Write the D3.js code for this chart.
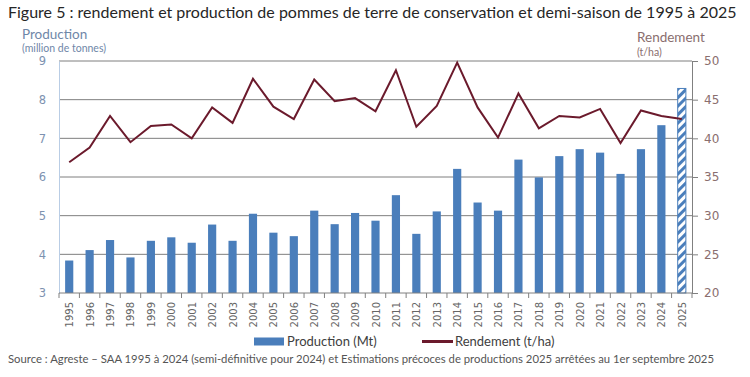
<!DOCTYPE html>
<html>
<head>
<meta charset="utf-8">
<script src="https://cdn.jsdelivr.net/npm/d3@7"></script>
<style>
  body { margin: 0; background: #fff; }
  svg { display: block; }
</style>
</head>
<body>
<svg id="chart"></svg>
<script>
const years = ["1995","1996","1997","1998","1999","2000","2001","2002","2003","2004",
  "2005","2006","2007","2008","2009","2010","2011","2012","2013","2014",
  "2015","2016","2017","2018","2019","2020","2021","2022","2023","2024","2025"];
const production = [3.84, 4.11, 4.37, 3.92, 4.35, 4.44, 4.30, 4.77, 4.35, 5.05,
  4.56, 4.47, 5.13, 4.78, 5.07, 4.87, 5.53, 4.53, 5.11, 6.21,
  5.34, 5.13, 6.45, 5.99, 6.54, 6.72, 6.63, 6.08, 6.72, 7.34, 8.29];
const rendement = [36.9, 38.8, 42.9, 39.5, 41.6, 41.8, 40.0, 44.0, 42.0, 47.7,
  44.1, 42.5, 47.6, 44.8, 45.2, 43.5, 48.8, 41.5, 44.2, 49.8,
  44.0, 40.1, 45.8, 41.3, 42.9, 42.7, 43.8, 39.4, 43.6, 42.9, 42.5];
const estimateYear = "2025";
const leftTicks = [3, 4, 5, 6, 7, 8, 9];
const rightTicks = [20, 25, 30, 35, 40, 45, 50];

const W = 750, H = 377;
const margin = { top: 61, right: 58, bottom: 84, left: 59 };
const width = W - margin.left - margin.right,
      height = H - margin.top - margin.bottom;

const blue = "#4a7ebb", maroon = "#6b1a2c";

const svg = d3.select("#chart").attr("width", W).attr("height", H);

const defs = svg.append("defs");
const pat = defs.append("pattern")
    .attr("id", "hatch")
    .attr("patternUnits", "userSpaceOnUse")
    .attr("width", 6).attr("height", 6)
    .attr("patternTransform", "rotate(45)");
pat.append("rect").attr("width", 6).attr("height", 6).attr("fill", "#fff");
pat.append("rect").attr("width", 3).attr("height", 6).attr("fill", blue);

const g = svg.append("g").attr("transform", `translate(${margin.left},${margin.top})`);

const x = d3.scaleBand().domain(years).range([0, width]).paddingInner(0.6).paddingOuter(0.3);
const y = d3.scaleLinear().domain([3, 9]).range([height, 0]);
const y2 = d3.scaleLinear().domain([20, 50]).range([height, 0]);

// gridlines
g.append("g").selectAll("line")
    .data(leftTicks.filter(d => d > 3))
    .enter().append("line")
    .attr("x1", 0).attr("x2", width)
    .attr("y1", d => y(d)).attr("y2", d => y(d))
    .attr("stroke", "#7f7f7f").attr("stroke-width", 1);

// bars
const data = years.map((yr, i) => ({ yr, p: production[i], r: rendement[i] }));
g.selectAll(".bar")
    .data(data)
    .enter().append("rect")
    .attr("class", "bar")
    .attr("x", d => x(d.yr))
    .attr("width", x.bandwidth())
    .attr("y", d => y(d.p))
    .attr("height", d => height - y(d.p))
    .attr("fill", d => d.yr === estimateYear ? "url(#hatch)" : blue)
    .attr("stroke", d => d.yr === estimateYear ? blue : "none")
    .attr("stroke-width", 1);

// line
const line = d3.line()
    .x(d => x(d.yr) + x.bandwidth() / 2)
    .y(d => y2(d.r));
g.append("path")
    .datum(data)
    .attr("fill", "none")
    .attr("stroke", maroon)
    .attr("stroke-width", 2)
    .attr("d", line);

// left axis
const leftAxis = g.append("g")
    .call(d3.axisLeft(y).tickValues(leftTicks).tickFormat(d3.format("d")).tickSize(0).tickPadding(13));
leftAxis.select(".domain").attr("stroke", "#b9cde5");
leftAxis.selectAll("text").attr("fill", "#7d92b0").style("font-family", "DejaVu Sans").style("font-size", "11.5px");

// right axis
const rightAxis = g.append("g")
    .attr("transform", `translate(${width},0)`)
    .call(d3.axisRight(y2).tickValues(rightTicks).tickSize(6).tickSizeOuter(0).tickPadding(6));
rightAxis.select(".domain").attr("stroke", "#808080");
rightAxis.selectAll("line").attr("stroke", "#808080");
rightAxis.selectAll("text").attr("fill", "#8a6e6e").style("font-family", "DejaVu Sans").style("font-size", "12px");

// bottom axis
const bottom = g.append("g").attr("transform", `translate(0,${height})`);
bottom.append("line").attr("x1", 0).attr("x2", width).attr("stroke", "#808080");
bottom.selectAll(".tk")
    .data(d3.range(years.length + 1))
    .enter().append("line")
    .attr("class", "tk")
    .attr("x1", i => i * x.step())
    .attr("x2", i => i * x.step())
    .attr("y1", 0).attr("y2", 5)
    .attr("stroke", "#808080");
bottom.selectAll(".yr")
    .data(years)
    .enter().append("text")
    .attr("class", "yr")
    .attr("transform", d => `translate(${x(d) + x.bandwidth() / 2 + 4},9) rotate(-90)`)
    .attr("text-anchor", "end")
    .style("font-family", "DejaVu Sans")
    .style("font-size", "10px")
    .attr("fill", "#666")
    .text(d => d);

// titles
svg.append("text")
    .attr("x", 8).attr("y", 18)
    .style("font-family", "Lato").style("font-size", "16px")
    .attr("fill", "#262626")
    .text("Figure 5 : rendement et production de pommes de terre de conservation et demi-saison de 1995 à 2025");

svg.append("text").attr("x", 22).attr("y", 39)
    .style("font-family", "Lato").style("font-size", "13.5px").attr("fill", "#6f87a8")
    .text("Production");
svg.append("text").attr("x", 22).attr("y", 52)
    .style("font-family", "Lato").style("font-size", "10.5px").attr("fill", "#6f87a8")
    .text("(million de tonnes)");
svg.append("text").attr("x", 637).attr("y", 42)
    .style("font-family", "Lato").style("font-size", "13.5px").attr("fill", "#8a6e6e")
    .text("Rendement");
svg.append("text").attr("x", 637).attr("y", 56)
    .style("font-family", "Lato").style("font-size", "10.5px").attr("fill", "#8a6e6e")
    .text("(t/ha)");

// legend
const leg = svg.append("g").attr("transform", "translate(0,341.5)");
leg.append("rect").attr("x", 254).attr("y", -4).attr("width", 30).attr("height", 8).attr("fill", blue);
leg.append("text").attr("x", 287).attr("y", 4.5)
    .style("font-family", "Lato").style("font-size", "13px").attr("fill", "#404040")
    .text("Production (Mt)");
leg.append("line").attr("x1", 422).attr("x2", 453).attr("y1", 0).attr("y2", 0)
    .attr("stroke", maroon).attr("stroke-width", 3);
leg.append("text").attr("x", 455).attr("y", 4.5)
    .style("font-family", "Lato").style("font-size", "13px").attr("fill", "#404040")
    .text("Rendement (t/ha)");

// source
svg.append("text").attr("x", 8).attr("y", 363)
    .style("font-family", "Lato").style("font-size", "11.3px").attr("fill", "#555")
    .text("Source : Agreste – SAA 1995 à 2024 (semi-définitive pour 2024) et Estimations précoces de productions 2025 arrêtées au 1er septembre 2025");
</script>
</body>
</html>
